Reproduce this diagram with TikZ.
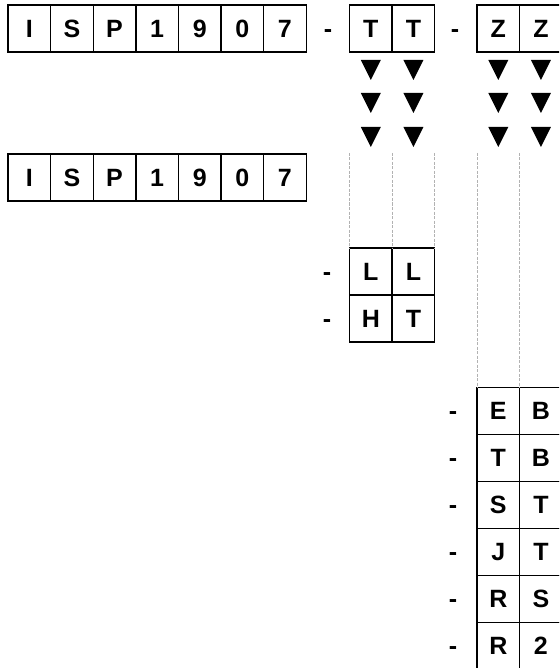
\documentclass[tikz,border=0pt]{standalone}
\usepackage{fontspec}
\setmainfont{Liberation Sans}[BoldFont={Liberation Sans Bold}, Scale=2.5]

\begin{document}
\begin{tikzpicture}[x=1pt, y=-1pt,
        cell/.style={draw, line width=1.4pt, outer sep=0pt, inner sep=0pt,
            minimum width=42.6pt, minimum height=47pt,
            text height=17.9pt, text depth=0pt, font=\bfseries},
        sep/.style={inner sep=0pt, text height=17.9pt, text depth=0pt, font=\bfseries},
        guide/.style={draw=black!30, line width=0.6pt, dash pattern=on 3pt off 1.5pt}]
        \pgfmathsetmacro{\w}{42.6};
        \pgfmathsetmacro{\h}{47};
        \useasboundingbox (0,0) rectangle (559,668);
        \clip (0,0) rectangle (559,668);
        % full code and short code
        \foreach \c [count=\k] in {I,S,P,1,9,0,7}
            \node [cell] (isp\k) at ({8+\w*(\k-0.5)}, 28.5) {\c};
        \foreach \c [count=\k] in {I,S,P,1,9,0,7}
            \node [cell] (low\k) at ({8+\w*(\k-0.5)}, 177.5) {\c};
        \node [sep] (d1) at (328, 28.5) {-};
        \node [cell] (tt1) at (349.5+0.5*\w, 28.5) {T};
        \node [cell] (tt2) at (349.5+1.5*\w, 28.5) {T};
        \node [sep] (d2) at (455, 28.5) {-};
        \node [cell] (zz1) at (477+0.5*\w, 28.5) {Z};
        \node [cell] (zz2) at (477+1.5*\w, 28.5) {Z};
        \foreach \x in {tt1,tt2,zz1,zz2}
            \foreach \y in {70,103,137}
                \fill (\x.center |- 0,\y) ++(-10,-10) -- ++(20,0) -- ++(-10,20) -- cycle;
        % options for TT
        \foreach \a/\b [count=\k] in {L/L,H/T}
            {
            \node [sep] (dl\k) at (327, {271.5+\h*(\k-1)}) {-};
            \node [cell] (opt\k a) at (349.5+0.5*\w, {271.5+\h*(\k-1)}) {\a};
            \node [cell] (opt\k b) at (349.5+1.5*\w, {271.5+\h*(\k-1)}) {\b};
            }
        % options for ZZ
        \foreach \a/\b [count=\k] in {E/B,T/B,S/T,J/T,R/S,R/2}
            {
            \node [sep] (dr\k) at (453, {411+\h*(\k-1)}) {-};
            \node [cell] (suf\k a) at (477+0.5*\w, {411+\h*(\k-1)}) {\a};
            \node [cell] (suf\k b) at (477+1.5*\w, {411+\h*(\k-1)}) {\b};
            }
        \coordinate (g) at (0, 153);
        \draw [guide] (tt1.west |- g) -- (opt1a.north west);
        \draw [guide] (tt1.east |- g) -- (opt1a.north east);
        \draw [guide] (tt2.east |- g) -- (opt1b.north east);
        \draw [guide] (zz1.west |- g) -- (suf1a.north west);
        \draw [guide] (zz1.east |- g) -- (suf1a.north east);
    \end{tikzpicture}
\end{document}
